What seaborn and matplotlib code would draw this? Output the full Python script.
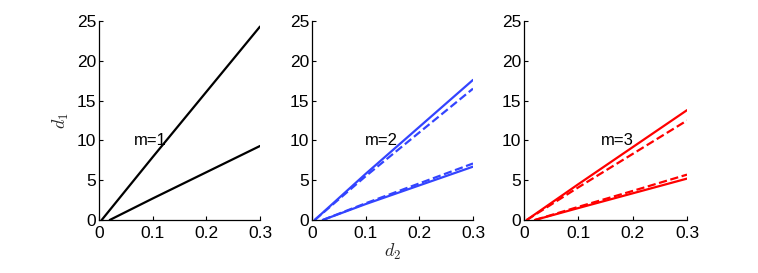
import numpy as np
import pandas as pd
import matplotlib
matplotlib.use("Agg")
import matplotlib.pyplot as plt
import seaborn as sns

# data (d2 -> d1)
x_upper = [0.005, 0.1, 0.2, 0.3]
x_lower = [0.02, 0.1, 0.2, 0.3]

m1_upper = [0.0, 7.9, 16.1, 24.3]
m1_lower = [0.0, 2.7, 6.0, 9.3]

m2_upper_solid = [0.0, 5.8, 11.7, 17.6]
m2_upper_dash = [0.0, 5.5, 11.0, 16.5]
m2_lower_solid = [0.0, 2.0, 4.35, 6.7]
m2_lower_dash = [0.0, 2.1, 4.6, 7.1]

m3_upper_solid = [0.0, 4.5, 9.15, 13.8]
m3_upper_dash = [0.0, 4.1, 8.3, 12.5]
m3_lower_solid = [0.0, 1.5, 3.35, 5.2]
m3_lower_dash = [0.0, 1.65, 3.65, 5.7]

xticks = [0, 0.1, 0.2, 0.3]
xticklabels = ["0", "0.1", "0.2", "0.3"]
yticks = [0, 5, 10, 15, 20, 25]
labels = ["m=1", "m=2", "m=3"]
label_pos = [(0.095, 10.0), (0.13, 10.0), (0.171, 10.0)]

sns.set_style("ticks")
plt.rcParams['font.family'] = ['Liberation Sans', 'DejaVu Sans']
plt.rcParams['mathtext.fontset'] = 'cm'
plt.rcParams['xtick.direction'] = 'in'
plt.rcParams['ytick.direction'] = 'in'

fig = plt.figure(figsize=(7.58, 2.73), dpi=100)
positions = [
    [99/758, 53/273, 161/758, 199/273],
    [312/758, 53/273, 161/758, 199/273],
    [524/758, 53/273, 163/758, 199/273],
]
axes = [fig.add_axes(p) for p in positions]

blue = "#3344ff"
red = "#ff0000"

panels = [
    [(x_upper, m1_upper, "k", "-"), (x_lower, m1_lower, "k", "-")],
    [(x_upper, m2_upper_solid, blue, "-"), (x_upper, m2_upper_dash, blue, "--"),
     (x_lower, m2_lower_solid, blue, "-"), (x_lower, m2_lower_dash, blue, "--")],
    [(x_upper, m3_upper_solid, red, "-"), (x_upper, m3_upper_dash, red, "--"),
     (x_lower, m3_lower_solid, red, "-"), (x_lower, m3_lower_dash, red, "--")],
]

for i, ax in enumerate(axes):
    for xs, ys, c, ls in panels[i]:
        df = pd.DataFrame({"d2": xs, "d1": ys})
        sns.lineplot(data=df, x="d2", y="d1", ax=ax, color=c, linestyle=ls, lw=1.6)
    ax.set_xlim(0, 0.3)
    ax.set_ylim(0, 25)
    ax.set_xticks(xticks)
    ax.set_xticklabels(xticklabels)
    ax.set_yticks(yticks)
    ax.tick_params(labelsize=12.5, length=3, width=0.8, colors="black")
    ax.tick_params(axis="x", pad=4)
    ax.tick_params(axis="y", pad=2)
    for s in ["top", "right"]:
        ax.spines[s].set_visible(False)
    for s in ["left", "bottom"]:
        ax.spines[s].set_linewidth(0.9)
        ax.spines[s].set_color("black")
    ax.set_xlabel("")
    ax.set_ylabel("")
    lx, ly = label_pos[i]
    ax.text(lx, ly, labels[i], fontsize=12, ha="center", va="center", color="black")

axes[0].set_ylabel(r"$d_1$", fontsize=13, labelpad=4)
axes[1].set_xlabel(r"$d_2$", fontsize=13, labelpad=1)

fig.savefig("out.png", dpi=100)
